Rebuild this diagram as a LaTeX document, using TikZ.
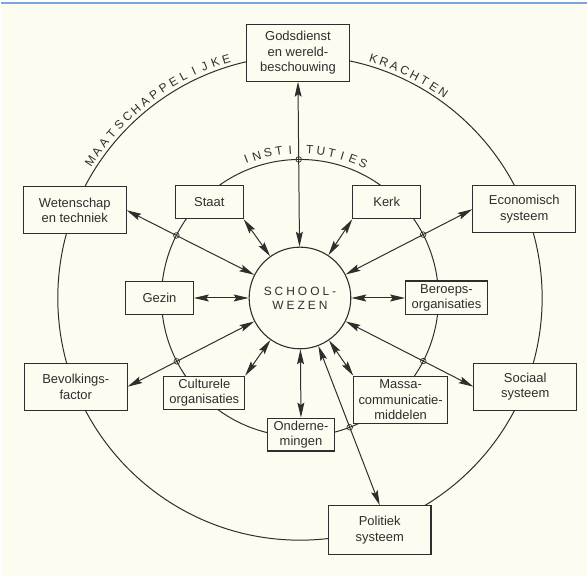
\documentclass[tikz,border=0pt]{standalone}
\usepackage{fontspec}
\setmainfont{Liberation Sans}
\newfontfamily\spaced[LetterSpace=25]{Liberation Sans}
\usetikzlibrary{arrows.meta,calc}
\definecolor{paper}{HTML}{FDFCF0}
\definecolor{rule}{HTML}{7FA6DC}
\definecolor{ink}{HTML}{2E2E2E}

\begin{document}
\begin{tikzpicture}[x=1pt,y=1pt,ink,>={Stealth[length=15pt,width=7pt,inset=2.5pt]}]
\tikzstyle{every node}+=[inner sep=0pt,text=ink,font=\fontsize{13}{15.5}\selectfont]
\tikzstyle{box}=[draw,fill=paper,line width=1.1pt,align=center]
\tikzstyle{wide}=[box,minimum width=103,minimum height=47]
\tikzstyle{narrow}=[box,minimum width=68,minimum height=33]
\tikzstyle{link}=[<->,line width=1pt]
\tikzstyle{hop}=[line width=0.7pt]
\tikzstyle{letter}=[font=\fontsize{12}{12}\selectfont]
\fill[white] (-300,-279) rectangle (288,299);
\fill[paper] (-300,-279) rectangle (288,294);
\draw[rule,line width=2] (-300,295.5) -- (288,295.5);
\useasboundingbox (-300,-279) rectangle (288,299);
\node[circle,draw,line width=1.1pt,minimum size=102,fill=paper,align=center,
  font=\fontsize{12}{14}\selectfont] (school) at (0,0) {\spaced SCHOOL-\\\spaced WEZEN};
\draw[line width=1pt] (school.center) circle (139);
\draw[line width=1pt] (school.center) circle (243);
\node[wide,minimum height=57] (gods) at (-2,246) {Godsdienst\\en wereld-\\beschouwing};
\node[wide] (wet) at (-226,88) {Wetenschap\\en techniek};
\node[narrow] (staat) at (-91,96) {Staat};
\node[narrow] (gezin) at (-141,0) {Gezin};
\node[narrow] (kerk) at (87,96) {Kerk};
\node[wide] (econ) at (225,89) {Economisch\\systeem};
\node[box,minimum width=82,minimum height=34] (beroeps) at (147,0) {Beroeps-\\organisaties};
\node[wide] (bev) at (-225,-89) {Bevolkings-\\factor};
\node[box,minimum width=81,minimum height=33] (cult) at (-96,-95) {Culturele\\organisaties};
\node[narrow] (ond) at (1,-137) {Onderne-\\mingen};
\node[box,minimum width=94,minimum height=47] (massa) at (101,-102) {Massa-\\communicatie-\\middelen};
\node[wide] (soc) at (226,-89) {Sociaal\\systeem};
\node[wide,minimum height=49] (pol) at (80,-233) {Politiek\\systeem};
\draw[link] (gods.south) -- (school);
\draw[link] (wet.east) -- (school);
\draw[link] (staat.south east) -- (school);
\draw[link] (gezin.east) -- (school);
\draw[link] (kerk.south west) -- (school);
\draw[link] (econ.west) -- (school);
\draw[link] (beroeps.west) -- (school);
\draw[link] (bev.east) -- (school);
\draw[link] (cult.north east) -- (school);
\draw[link] (ond.north) -- (school);
\draw[link] (massa.north west) -- (school);
\draw[link] (soc.west) -- (school);
\draw[link] (pol.north) -- (school);
\foreach \n/\a in {gods/south,wet/east,econ/west,bev/east,soc/west,pol/north}
  \draw[hop] ($(school.center)!139pt!(\n.\a)$) circle (2.8);
\foreach \ch [count=\i, evaluate=\i as \a using 146.9-2.65*(\i-1)] in {M,A,A,T,S,C,H,A,P,P,E,L,I,J,K,E}
  \node[letter,rotate=\a-90] at ($(school.center)+(\a:251)$) {\ch};
\foreach \ch [count=\i, evaluate=\i as \a using 72.9-2.55*(\i-1)] in {K,R,A,C,H,T,E,N}
  \node[letter,rotate=\a-90] at ($(school.center)+(\a:251)$) {\ch};
\foreach \ch [count=\i, evaluate=\i as \a using 111.2-4.35*(\i-1)] in {I,N,S,T,I}
  \node[letter,rotate=\a-90] at ($(school.center)+(\a:149)$) {\ch};
\foreach \ch [count=\i, evaluate=\i as \a using 86.2-4.28*(\i-1)] in {T,U,T,I,E,S}
  \node[letter,rotate=\a-90] at ($(school.center)+(\a:149)$) {\ch};
\end{tikzpicture}
\end{document}
